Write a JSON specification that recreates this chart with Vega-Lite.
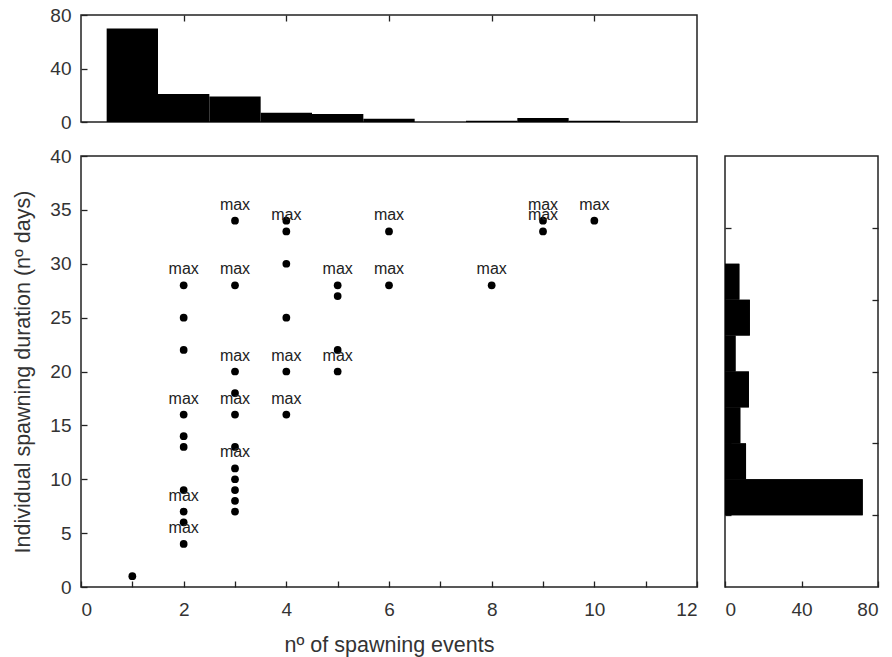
{
  "$schema": "https://vega.github.io/schema/vega-lite/v6.json",
  "padding": {"left": 12, "top": 5, "right": 5, "bottom": 2},
  "background": "white",
  "config": {
    "font": "Liberation Sans",
    "view": {"stroke": "#222", "strokeWidth": 1.5},
    "axis": {"domain": false, "grid": false, "tickColor": "#222", "tickWidth": 1.3, "labelFont": "Liberation Sans", "labelFontSize": 19, "labelColor": "#333", "titleFont": "Liberation Sans", "titleFontSize": 21.5, "titleFontWeight": "normal", "titleColor": "#333"},
    "concat": {"spacing": 28}
  },
  "bounds": "flush",
  "spacing": 34,
  "vconcat": [
    {
      "width": 616,
      "height": 107,
      "data": {"values": [
        {"start": 0.5, "end": 1.5, "count": 70},
        {"start": 1.5, "end": 2.5, "count": 21},
        {"start": 2.5, "end": 3.5, "count": 19},
        {"start": 3.5, "end": 4.5, "count": 7},
        {"start": 4.5, "end": 5.5, "count": 6},
        {"start": 5.5, "end": 6.5, "count": 2.5},
        {"start": 6.5, "end": 7.5, "count": 0},
        {"start": 7.5, "end": 8.5, "count": 1},
        {"start": 8.5, "end": 9.5, "count": 3},
        {"start": 9.5, "end": 10.5, "count": 1}
      ]},
      "mark": {"type": "bar", "color": "#000"},
      "encoding": {
        "x": {"field": "start", "type": "quantitative", "scale": {"domain": [0, 12], "nice": false}, "axis": {"orient": "top", "values": [2, 4, 6, 8, 10], "labels": false, "tickSize": -6, "title": null}},
        "x2": {"field": "end"},
        "y": {"field": "count", "type": "quantitative", "scale": {"domain": [0, 80], "nice": false}, "axis": {"values": [0, 40, 80], "tickSize": -6, "labelPadding": 16, "title": null}},
        "y2": {"datum": 0}
      }
    },
    {
      "bounds": "flush",
      "spacing": 28,
      "hconcat": [
        {
          "width": 616,
          "height": 431,
          "data": {"values": [
            {"events": 1, "days": 1, "label": ""},
            {"events": 2, "days": 4, "label": "max"},
            {"events": 2, "days": 6, "label": ""},
            {"events": 2, "days": 7, "label": "max"},
            {"events": 2, "days": 9, "label": ""},
            {"events": 2, "days": 13, "label": ""},
            {"events": 2, "days": 14, "label": ""},
            {"events": 2, "days": 16, "label": "max"},
            {"events": 2, "days": 22, "label": ""},
            {"events": 2, "days": 25, "label": ""},
            {"events": 2, "days": 28, "label": "max"},
            {"events": 3, "days": 7, "label": ""},
            {"events": 3, "days": 8, "label": ""},
            {"events": 3, "days": 9, "label": ""},
            {"events": 3, "days": 10, "label": ""},
            {"events": 3, "days": 11, "label": "max"},
            {"events": 3, "days": 13, "label": ""},
            {"events": 3, "days": 16, "label": "max"},
            {"events": 3, "days": 18, "label": ""},
            {"events": 3, "days": 20, "label": "max"},
            {"events": 3, "days": 28, "label": "max"},
            {"events": 3, "days": 34, "label": "max"},
            {"events": 4, "days": 16, "label": "max"},
            {"events": 4, "days": 20, "label": "max"},
            {"events": 4, "days": 25, "label": ""},
            {"events": 4, "days": 30, "label": ""},
            {"events": 4, "days": 33, "label": "max"},
            {"events": 4, "days": 34, "label": ""},
            {"events": 5, "days": 20, "label": "max"},
            {"events": 5, "days": 22, "label": ""},
            {"events": 5, "days": 27, "label": ""},
            {"events": 5, "days": 28, "label": "max"},
            {"events": 6, "days": 28, "label": "max"},
            {"events": 6, "days": 33, "label": "max"},
            {"events": 8, "days": 28, "label": "max"},
            {"events": 9, "days": 33, "label": "max"},
            {"events": 9, "days": 34, "label": "max"},
            {"events": 10, "days": 34, "label": "max"}
          ]},
          "encoding": {
            "x": {"field": "events", "type": "quantitative", "scale": {"domain": [0, 12], "nice": false}, "axis": {"values": [0,1,2,3,4,5,6,7,8,9,10,11,12], "labelExpr": "datum.value % 2 === 0 ? datum.label : ''", "tickSize": -6, "labelPadding": 19, "titlePadding": 15, "title": "nº of spawning events"}},
            "y": {"field": "days", "type": "quantitative", "scale": {"domain": [0, 40], "nice": false}, "axis": {"values": [0,5,10,15,20,25,30,35,40], "tickSize": -6, "labelPadding": 16, "titlePadding": 15, "title": "Individual spawning duration (nº days)"}}
          },
          "layer": [
            {"mark": {"type": "point", "filled": true, "color": "#000", "size": 60, "opacity": 1}},
            {"mark": {"type": "text", "fontSize": 16, "font": "Liberation Sans", "color": "#222", "baseline": "alphabetic", "dy": -11}, "encoding": {"text": {"field": "label"}}}
          ]
        },
        {
          "width": 153,
          "height": 431,
          "data": {"values": [
            {"start": 6.67, "end": 10, "count": 72},
            {"start": 10, "end": 13.33, "count": 11},
            {"start": 13.33, "end": 16.67, "count": 8},
            {"start": 16.67, "end": 20, "count": 12.5},
            {"start": 20, "end": 23.33, "count": 5.5},
            {"start": 23.33, "end": 26.67, "count": 13},
            {"start": 26.67, "end": 30, "count": 7.5}
          ]},
          "encoding": {
            "x": {"field": "count", "type": "quantitative", "scale": {"domain": [0, 80], "nice": false}, "axis": {"values": [0, 40, 80], "tickSize": -6, "labelPadding": 19, "title": null}},
            "x2": {"datum": 0},
            "y2": {"field": "end"}
          },
          "layer": [
            {"mark": {"type": "bar", "color": "#000"}, "encoding": {"y": {"field": "start", "type": "quantitative", "scale": {"domain": [0, 40], "nice": false}, "axis": {"orient": "left", "values": [6.67, 13.33, 20, 26.67, 33.33], "labels": false, "tickSize": -6, "title": null}}}},
            {"mark": {"type": "bar", "color": "#000"}, "encoding": {"y": {"field": "start", "type": "quantitative", "scale": {"domain": [0, 40], "nice": false}, "axis": {"orient": "right", "values": [6.67, 13.33, 20, 26.67, 33.33], "labels": false, "tickSize": -6, "title": null}}}}
          ]
        }
      ]
    }
  ]
}
